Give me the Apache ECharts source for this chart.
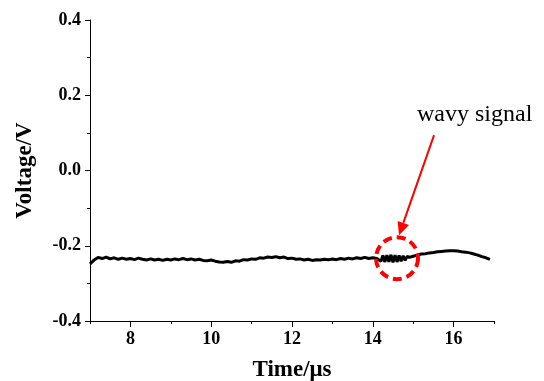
<!DOCTYPE html>
<html><head><meta charset="utf-8">
<script src="https://cdn.jsdelivr.net/npm/echarts@6/dist/echarts.min.js"></script>
<style>html,body{margin:0;padding:0;background:#fff}#c{width:544px;height:381px}</style>
</head><body><div id="c"></div>
<script>
const timeUs = [7.0,7.1,7.2,7.3,7.4,7.5,7.6,7.7,7.8,7.9,
8.0,8.1,8.2,8.3,8.4,8.5,8.6,8.7,8.8,8.9,
9.0,9.1,9.2,9.3,9.4,9.5,9.6,9.7,9.8,9.9,
10.0,10.1,10.2,10.3,10.4,10.5,10.6,10.7,10.8,10.9,
11.0,11.1,11.2,11.3,11.4,11.5,11.6,11.7,11.8,11.9,
12.0,12.1,12.2,12.3,12.4,12.5,12.6,12.7,12.8,12.9,
13.0,13.1,13.2,13.3,13.4,13.5,13.6,13.7,13.8,13.9,
14.0,14.1,14.2,14.25,14.3,14.35,14.4,14.45,14.5,14.55,14.6,14.65,14.7,14.75,14.8,14.85,14.9,
15.0,15.1,15.2,15.3,15.4,15.5,15.6,15.7,15.8,15.9,
16.0,16.1,16.2,16.3,16.4,16.5,16.6,16.7,16.8,16.9];
const voltage = [-0.248,-0.238,-0.231,-0.234,-0.230,-0.235,-0.232,-0.236,-0.233,-0.236,
-0.234,-0.237,-0.233,-0.236,-0.238,-0.235,-0.238,-0.236,-0.239,-0.236,
-0.238,-0.235,-0.237,-0.234,-0.237,-0.235,-0.238,-0.236,-0.239,-0.240,
-0.238,-0.241,-0.243,-0.244,-0.242,-0.244,-0.240,-0.241,-0.237,-0.238,
-0.235,-0.236,-0.232,-0.233,-0.230,-0.231,-0.229,-0.232,-0.230,-0.234,
-0.233,-0.236,-0.235,-0.238,-0.236,-0.239,-0.237,-0.238,-0.236,-0.237,
-0.235,-0.237,-0.234,-0.236,-0.233,-0.235,-0.232,-0.234,-0.231,-0.234,
-0.232,-0.234,-0.241,-0.226,-0.243,-0.225,-0.243,-0.224,-0.244,-0.225,-0.243,-0.226,-0.241,-0.227,-0.239,-0.228,-0.231,
-0.228,-0.225,-0.222,-0.221,-0.219,-0.218,-0.216,-0.215,-0.214,-0.213,
-0.213,-0.214,-0.216,-0.217,-0.219,-0.222,-0.225,-0.229,-0.232,-0.236];
const xMajorLabels = [8,10,12,14,16];
const xOddTicks = [7,9,11,13,15,17];
const yTicks = [-0.4,-0.2,0.0,0.2,0.4];
const annotationText = 'wavy signal';
const wavyCenter = [14.6, -0.233];

const serif = '"Liberation Serif","Times New Roman",serif';
const chart = echarts.init(document.getElementById('c'), null, {renderer:'canvas'});
const axLine = {show:true, onZero:false, lineStyle:{color:'#000', width:1}};
chart.setOption({
  animation:false,
  backgroundColor:'#fff',
  grid:{left:90, right:50, top:20, bottom:60, containLabel:false, outerBoundsMode:'none'},
  xAxis:[{
    type:'value', min:7, max:17, position:'bottom',
    name:'Time/μs', nameLocation:'middle', nameGap:38,
    nameTextStyle:{fontFamily:serif, fontWeight:'bold', fontSize:23, color:'#000'},
    axisLine:axLine,
    axisTick:{show:true, customValues:xMajorLabels, length:6, lineStyle:{color:'#000'}},
    axisLabel:{customValues:xMajorLabels, fontFamily:serif, fontWeight:'bold', fontSize:18, color:'#000', margin:9},
    splitLine:{show:false}
  },{
    type:'value', min:7, max:17, position:'bottom',
    axisLine:{show:false, onZero:false},
    axisTick:{show:true, customValues:xOddTicks, length:3, lineStyle:{color:'#000'}},
    axisLabel:{show:false}, splitLine:{show:false}
  }],
  yAxis:{
    type:'value', min:-0.4, max:0.4, interval:0.2,
    name:'Voltage/V', nameLocation:'middle', nameGap:53, nameRotate:90,
    nameTextStyle:{fontFamily:serif, fontWeight:'bold', fontSize:23, color:'#000'},
    axisLine:axLine,
    axisTick:{show:true, length:5, lineStyle:{color:'#000'}},
    minorTick:{show:true, splitNumber:2, length:3, lineStyle:{color:'#000'}},
    axisLabel:{fontFamily:serif, fontWeight:'bold', fontSize:18, color:'#000', margin:9,
      formatter:v=>v.toFixed(1), showMinLabel:true, showMaxLabel:true},
    splitLine:{show:false}
  },
  series:[{
    type:'line', xAxisIndex:0, showSymbol:false,
    data: timeUs.map((t,i)=>[t, voltage[i]]),
    lineStyle:{color:'#000', width:3}
  }]
});
const c = chart.convertToPixel({xAxisIndex:0, yAxisIndex:0}, wavyCenter);
const r = 21;
const tipX = c[0]+2, tipY = c[1]-r-2;
const startX = tipX+35, startY = tipY-100;
const ang = Math.atan2(tipY-startY, tipX-startX);
const hl = 13, hw = 6;
const bx = tipX - hl*Math.cos(ang), by = tipY - hl*Math.sin(ang);
const px = -Math.sin(ang), py = Math.cos(ang);
chart.setOption({graphic:[
  {type:'circle', shape:{cx:c[0], cy:c[1], r:r}, style:{fill:null, stroke:'#ff0000', lineWidth:4, lineDash:[9,5]}, z:10},
  {type:'line', shape:{x1:startX, y1:startY, x2:bx, y2:by}, style:{stroke:'#ff0000', lineWidth:2}, z:10},
  {type:'polygon', shape:{points:[[tipX,tipY],[bx+px*hw,by+py*hw],[bx-px*hw,by-py*hw]]}, style:{fill:'#ff0000'}, z:10},
  {type:'text', x:startX-17, y:startY-8, style:{text:annotationText, font:'24px '+serif, fill:'#000', textVerticalAlign:'bottom'}, z:10}
]});
</script></body></html>
